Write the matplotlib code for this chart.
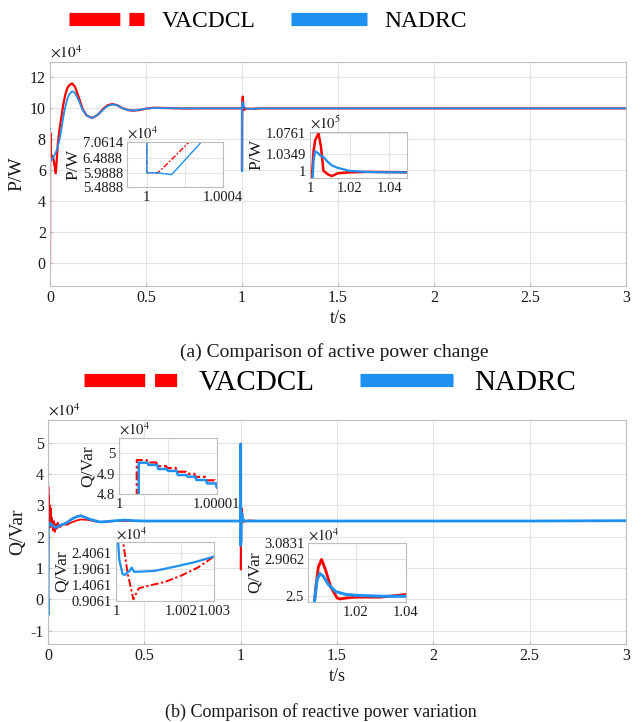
import matplotlib
matplotlib.use('Agg')
import matplotlib.pyplot as plt
from matplotlib.lines import Line2D
import numpy as np

plt.rcParams['font.family'] = ['Liberation Serif', 'DejaVu Serif']
plt.rcParams['mathtext.fontset'] = 'stix'

RED = '#FF0000'
BLUE = '#1E90F0'
series_names = ['VACDCL', 'NADRC']

# ---------------- active power P (x1e4 W) ----------------
t_P = [0, 0.0005, 0.002, 0.004, 0.006, 0.01, 0.015, 0.02, 0.025, 0.03, 0.035, 0.04,
       0.05, 0.06, 0.07, 0.08, 0.09, 0.1, 0.115, 0.13, 0.15, 0.17, 0.19, 0.22, 0.25,
       0.28, 0.3, 0.325, 0.35, 0.38, 0.41, 0.435, 0.47, 0.5, 0.54, 0.6, 0.7, 0.8, 0.9,
       0.999999, 1.0, 1.00006, 1.00013, 1.000222, 1.000286, 1.0005, 1.001, 1.0018,
       1.0026, 1.0043, 1.0055, 1.0068, 1.009, 1.011, 1.014, 1.02, 1.03, 1.04, 1.05,
       1.1, 1.5, 2.0, 2.5, 3.0]
P_VACDCL = [0, 6.6, 8.4, 6.7, 7.0, 6.7, 6.9, 6.6, 6.2, 5.8, 6.6, 7.6,
            8.7, 9.5, 10.3, 10.9, 11.3, 11.5, 11.62, 11.4, 10.7, 9.95, 9.55, 9.37, 9.6,
            10.0, 10.2, 10.28, 10.2, 10.0, 9.88, 9.85, 9.9, 9.98, 10.04, 10.02, 9.99, 10.0, 10.0,
            10.0, 5.99, 5.99, 6.45, 7.06, 7.5, 8.9, 9.9, 10.4,
            10.62, 10.76, 10.5, 10.0, 9.93, 9.894, 9.95, 9.97, 9.98, 9.975, 9.97,
            10.0, 10.0, 10.0, 10.0, 10.0]
P_NADRC = [0, 6.5, 6.55, 6.6, 6.65, 6.7, 6.8, 6.9, 7.0, 7.15, 7.3, 7.5,
           8.0, 8.7, 9.5, 10.1, 10.6, 10.9, 11.1, 11.0, 10.5, 9.9, 9.55, 9.37, 9.6,
           9.95, 10.15, 10.25, 10.2, 10.0, 9.88, 9.86, 9.92, 9.98, 10.02, 10.01, 10.0, 10.0, 10.0,
           10.0, 5.99, 5.98, 5.92, 6.59, 7.06, 8.2, 9.5, 10.2,
           10.4, 10.35, 10.3, 10.28, 10.18, 10.11, 10.06, 10.0, 9.975, 9.97, 9.968,
           10.0, 10.0, 10.0, 10.0, 10.0]

# ---------------- reactive power Q (x1e4 Var) ----------------
tQ_start = [0, 0.0005, 0.002, 0.003, 0.005, 0.007, 0.009, 0.012, 0.015, 0.018, 0.021,
            0.025, 0.03, 0.035, 0.04, 0.045, 0.05, 0.06, 0.07, 0.08, 0.1, 0.12, 0.15,
            0.17, 0.2, 0.22, 0.25, 0.27, 0.3, 0.35, 0.4, 0.45, 0.5, 0.6, 0.8, 0.999999]
Q_VACDCL_start = [0, -0.75, 3.6, 2.4, 3.3, 2.3, 3.0, 2.3, 2.9, 2.4, 2.6,
                  2.2, 2.5, 2.15, 2.4, 2.25, 2.45, 2.3, 2.35, 2.4, 2.38, 2.45, 2.52,
                  2.55, 2.54, 2.52, 2.48, 2.47, 2.48, 2.5, 2.5, 2.5, 2.5, 2.5, 2.5, 2.5]
Q_NADRC_start = [0, -0.5, 2.4, 2.45, 2.4, 2.42, 2.38, 2.42, 2.4, 2.38, 2.36,
                 2.35, 2.33, 2.3, 2.3, 2.3, 2.32, 2.35, 2.38, 2.4, 2.45, 2.55, 2.64,
                 2.67, 2.6, 2.55, 2.5, 2.47, 2.48, 2.51, 2.53, 2.51, 2.5, 2.5, 2.5, 2.5]

tQ_VACDCL_event = [1.0000017, 1.0000018, 1.0000028, 1.0000029, 1.0000038, 1.0000039,
                   1.0000048, 1.0000049, 1.0000058, 1.0000059, 1.0000068, 1.0000069,
                   1.0000077, 1.0000078, 1.0000088, 1.0000089, 1.0000098, 1.0000099,
                   1.00001, 1.0001, 1.00022, 1.00035, 1.00053, 1.0006, 1.0007, 1.001,
                   1.0015, 1.002, 1.0025, 1.003, 1.004, 1.005, 1.0063, 1.008, 1.01,
                   1.0125, 1.0136, 1.016, 1.02, 1.03, 1.04, 1.1, 1.5, 2.0, 2.5, 3.0]
Q_VACDCL_event = [2.5, 4.967, 4.967, 4.955, 4.955, 4.937, 4.937, 4.928, 4.928, 4.91,
                  4.91, 4.9, 4.9, 4.885, 4.885, 4.868, 4.868, 4.858, 4.852, 3.6, 2.75,
                  1.8, 0.95, 1.1, 1.3, 1.38, 1.5, 1.7, 1.95, 2.3, 2.6, 2.82, 2.906,
                  2.78, 2.6, 2.48, 2.47, 2.48, 2.49, 2.49, 2.52, 2.5, 2.5, 2.5, 2.5, 2.5]
tQ_NADRC_event = [1.0000019, 1.000002, 1.0000029, 1.000003, 1.0000039, 1.000004,
                  1.0000049, 1.000005, 1.0000059, 1.000006, 1.0000069, 1.000007,
                  1.0000078, 1.0000079, 1.0000089, 1.000009, 1.0000099, 1.00001,
                  1.00003, 1.00006, 1.0001, 1.0002, 1.000275, 1.00035, 1.00042,
                  1.00048, 1.00055, 1.0007, 1.0012, 1.0018, 1.0024, 1.003, 1.0035,
                  1.0045, 1.0056, 1.007, 1.009, 1.012, 1.016, 1.02, 1.03, 1.04, 1.1,
                  1.5, 2.0, 2.5, 3.0]
Q_NADRC_event = [2.5, 4.954, 4.954, 4.943, 4.943, 4.923, 4.923, 4.914, 4.914, 4.894,
                 4.894, 4.886, 4.886, 4.870, 4.870, 4.853, 4.853, 4.834,
                 4.0, 2.9, 2.2, 1.75, 1.72, 1.8, 1.85, 1.95, 1.82, 1.82, 1.85, 1.98,
                 2.12, 2.3, 2.45, 2.68, 2.75, 2.72, 2.63, 2.55, 2.52, 2.51, 2.5, 2.5,
                 2.5, 2.5, 2.5, 2.5, 2.51]

tQ_VACDCL = tQ_start + tQ_VACDCL_event
Q_VACDCL = Q_VACDCL_start + Q_VACDCL_event
tQ_NADRC = tQ_start + tQ_NADRC_event
Q_NADRC = Q_NADRC_start + Q_NADRC_event

main_xticks = [0, 0.5, 1, 1.5, 2, 2.5, 3]
main_xticklabels = ['0', '0.5', '1', '1.5', '2', '2.5', '3']
P_yticks = [0, 2, 4, 6, 8, 10, 12]
Q_yticks = [-1, 0, 1, 2, 3, 4, 5]

GRID = '#E3E3E3'
SPINE = '#BDBDBD'
TXT = '#1A1A1A'

W, H = 642, 722
fig = plt.figure(figsize=(W / 100, H / 100), dpi=100)


def px_rect(x0, y0, x1, y1):
    return [x0 / W, 1 - y1 / H, (x1 - x0) / W, (y1 - y0) / H]


def style_axes(ax, fs):
    ax.grid(True, color=GRID, lw=0.8)
    ax.set_axisbelow(True)
    for s in ax.spines.values():
        s.set_color(SPINE)
        s.set_linewidth(0.8)
    ax.tick_params(direction='in', length=2.5, color=SPINE, labelsize=fs,
                   labelcolor=TXT, pad=3)


def main_axes(rect, t_r, y_r, t_b, y_b, ylim, yticks, ylabel, lw_r, lw_b):
    ax = fig.add_axes(rect)
    ax.plot(t_r, y_r, color=RED, lw=lw_r)
    ax.plot(t_b, y_b, color=BLUE, lw=lw_b)
    ax.set_xlim(0, 3)
    ax.set_ylim(*ylim)
    ax.set_xticks(main_xticks)
    ax.set_xticklabels(main_xticklabels)
    ax.set_yticks(yticks)
    ax.set_yticklabels([str(v) for v in yticks])
    style_axes(ax, 11.5)
    ax.set_ylabel(ylabel, fontsize=14, color=TXT, labelpad=3)
    ax.set_xlabel('t/s', fontsize=13, color=TXT, labelpad=3)
    ax.text(0.0, 1.005, r'$\times10^{4}$', transform=ax.transAxes, ha='left',
            va='bottom', fontsize=11, color=TXT)
    return ax


def inset(rect, t_r, y_r, t_b, y_b, xlim, xticks, xtl, ylim, yticks, ytl, ylabel,
          offset, red_dashed, lw_r, lw_b):
    ax = fig.add_axes(rect)
    if red_dashed:
        ax.plot(t_r, y_r, color=RED, lw=lw_r, dashes=(4, 1.3, 1.2, 1.3))
    else:
        ax.plot(t_r, y_r, color=RED, lw=lw_r)
    ax.plot(t_b, y_b, color=BLUE, lw=lw_b)
    ax.set_xlim(*xlim)
    ax.set_ylim(*ylim)
    ax.set_xticks(xticks)
    ax.set_xticklabels(xtl)
    ax.set_yticks(yticks)
    ax.set_yticklabels(ytl)
    ax.set_facecolor('white')
    style_axes(ax, 10.5)
    ax.tick_params(length=0)
    ax.set_ylabel(ylabel, fontsize=12.5, color=TXT, labelpad=1)
    ax.text(0.0, 1.0, offset, transform=ax.transAxes, ha='left', va='bottom',
            fontsize=10.5, color=TXT)
    return ax


# ---- (a) active power ----
axP = main_axes(px_rect(50, 62, 626, 286), t_P, P_VACDCL, t_P, P_NADRC,
                (-1.5, 13), P_yticks, 'P/W', 1.6, 1.3)

inset(px_rect(127, 142, 223, 187), t_P, P_VACDCL, t_P, P_NADRC,
      (0.999896, 1.0004), [1, 1.0002, 1.0004], ['1', '', '1.0004'],
      (5.4888, 7.0614), [5.4888, 5.9888, 6.4888, 7.0614],
      ['5.4888', '5.9888', '6.4888', '7.0614'], 'P/W', r'$\times10^{4}$',
      True, 1.0, 1.0)

inset(px_rect(310, 132, 407, 178), t_P, np.array(P_VACDCL) / 10, t_P,
      np.array(P_NADRC) / 10,
      (1.0, 1.049), [1, 1.02, 1.04], ['1', '1.02', '1.04'],
      (0.9855, 1.0787), [1, 1.0349, 1.0761], ['1', '1.0349', '1.0761'],
      'P/W', r'$\times10^{5}$', False, 1.8, 1.6)

fig.text(334 / W, 1 - 352 / H, '(a) Comparison of active power change',
         ha='center', va='center', fontsize=14, color=TXT)

# ---- (b) reactive power ----
axQ = main_axes(px_rect(48, 420, 626, 644), tQ_VACDCL, Q_VACDCL, tQ_NADRC, Q_NADRC,
                (-1.42, 5.72), Q_yticks, 'Q/Var', 1.3, 2.0)

inset(px_rect(119.3, 437.7, 216.7, 494.3), tQ_VACDCL, Q_VACDCL, tQ_NADRC, Q_NADRC,
      (1.0, 1.00001), [1, 1.000005, 1.00001], ['1', '', '1.00001'],
      (4.8, 5.076), [4.8, 4.9, 5.0], ['4.8', '4.9', '5'],
      'Q/Var', r'$\times10^{4}$', True, 1.6, 1.8)

inset(px_rect(116, 542.3, 214, 600.7), tQ_VACDCL, Q_VACDCL, tQ_NADRC, Q_NADRC,
      (1.0, 1.003), [1, 1.002, 1.003], ['1', '1.002', '1.003'],
      (0.9061, 2.75), [0.9061, 1.4061, 1.9061, 2.4061],
      ['0.9061', '1.4061', '1.9061', '2.4061'],
      'Q/Var', r'$\times10^{4}$', True, 1.4, 1.6)

inset(px_rect(308.3, 543.3, 406, 601.7), tQ_VACDCL, Q_VACDCL, tQ_NADRC, Q_NADRC,
      (1.001, 1.04), [1.02, 1.04], ['1.02', '1.04'],
      (2.44, 3.0831), [2.5, 2.9062, 3.0831], ['2.5', '2.9062', '3.0831'],
      'Q/Var', r'$\times10^{4}$', False, 2.0, 2.2)

fig.text(321 / W, 1 - 712 / H, '(b) Comparison of reactive power variation',
         ha='center', va='center', fontsize=13, color=TXT)


# ---- legends ----
def legend_handles(red_dashes):
    h_red = Line2D([], [], color=RED, lw=9.5, dashes=red_dashes,
                   dash_capstyle='butt', solid_capstyle='butt')
    h_blue = Line2D([], [], color=BLUE, lw=9.5, solid_capstyle='butt')
    return [h_red, h_blue]


fig.legend(legend_handles((3.85, 0.69, 1.31, 3.0)), series_names, loc='center',
           bbox_to_anchor=(268 / W, 1 - 21 / H), ncol=2, frameon=False,
           fontsize=17, handlelength=3.2, handletextpad=0.75, columnspacing=1.5,
           borderpad=0, borderaxespad=0)
fig.legend(legend_handles((4.6, 0.75, 1.67, 3.0)), series_names, loc='center',
           bbox_to_anchor=(330 / W, 1 - 383 / H), ncol=2, frameon=False,
           fontsize=21, handlelength=3.2, handletextpad=0.72, columnspacing=1.55,
           borderpad=0, borderaxespad=0)

fig.savefig('out.png', dpi=100)
